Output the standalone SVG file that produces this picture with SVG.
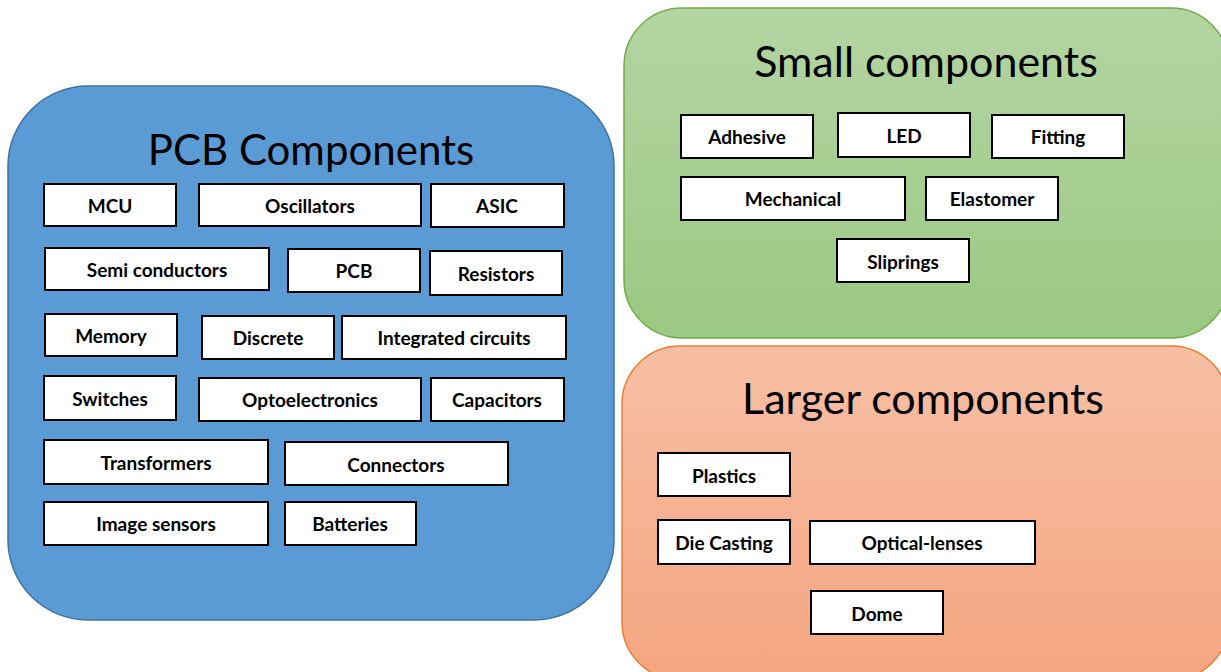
<svg xmlns="http://www.w3.org/2000/svg" width="1221" height="672" viewBox="0 0 1221 672">
  <defs>
    <linearGradient id="gradGreen" x1="0" y1="0" x2="0" y2="1">
      <stop offset="0" stop-color="#b4d5a3"/>
      <stop offset="1" stop-color="#9bc883"/>
    </linearGradient>
    <linearGradient id="gradOrange" x1="0" y1="0" x2="0" y2="1">
      <stop offset="0" stop-color="#f7bfa5"/>
      <stop offset="1" stop-color="#f4a580"/>
    </linearGradient>
    <style>
      .panel-title { font-family: Lato, "Liberation Sans", sans-serif; font-size: 43px; fill: #000; text-anchor: middle; }
      .item rect { fill: #fff; stroke: #000; stroke-width: 2; }
      .item text { font-family: Lato, "Liberation Sans", sans-serif; font-weight: bold; font-size: 19px; fill: #000; text-anchor: middle; dominant-baseline: central; }
    </style>
  </defs>
  <rect width="1221" height="672" fill="#fff"/>

  <!-- Category panels -->
  <g id="pcb-panel">
    <rect x="8" y="86" width="606" height="534" rx="80" ry="80" fill="#5b9bd5" stroke="#41719c" stroke-width="1.5"/>
    <text class="panel-title" x="311" y="165" style="font-size:42px">PCB Components</text>
  </g>
  <g id="small-panel">
    <rect x="624" y="8" width="605" height="330" rx="58" ry="58" fill="url(#gradGreen)" stroke="#70ad47" stroke-width="1.5"/>
    <text class="panel-title" x="926" y="77">Small components</text>
  </g>
  <g id="larger-panel">
    <rect x="622" y="346" width="607" height="334" rx="58" ry="58" fill="url(#gradOrange)" stroke="#ed7d31" stroke-width="1.5"/>
    <text class="panel-title" x="923" y="414">Larger components</text>
  </g>

  <!-- PCB component items -->
  <g id="mcu" class="item"><rect x="44" y="184" width="132" height="42"/><text x="110" y="205">MCU</text></g>
  <g id="oscillators" class="item"><rect x="199" y="184" width="222" height="42"/><text x="310" y="205">Oscillators</text></g>
  <g id="asic" class="item"><rect x="431" y="184" width="133" height="43"/><text x="497" y="205">ASIC</text></g>
  <g id="semi-conductors" class="item"><rect x="45" y="248" width="224" height="42"/><text x="157" y="269">Semi conductors</text></g>
  <g id="pcb" class="item"><rect x="288" y="249" width="132" height="43"/><text x="354" y="270">PCB</text></g>
  <g id="resistors" class="item"><rect x="430" y="251" width="132" height="44"/><text x="496" y="273">Resistors</text></g>
  <g id="memory" class="item"><rect x="45" y="314" width="132" height="42"/><text x="111" y="335">Memory</text></g>
  <g id="discrete" class="item"><rect x="202" y="316" width="132" height="43"/><text x="268" y="337">Discrete</text></g>
  <g id="integrated-circuits" class="item"><rect x="342" y="316" width="224" height="43"/><text x="454" y="337">Integrated circuits</text></g>
  <g id="switches" class="item"><rect x="44" y="376" width="132" height="44"/><text x="110" y="398">Switches</text></g>
  <g id="optoelectronics" class="item"><rect x="199" y="378" width="222" height="43"/><text x="310" y="399">Optoelectronics</text></g>
  <g id="capacitors" class="item"><rect x="431" y="378" width="133" height="43"/><text x="497" y="399">Capacitors</text></g>
  <g id="transformers" class="item"><rect x="44" y="440" width="224" height="44"/><text x="156" y="462">Transformers</text></g>
  <g id="connectors" class="item"><rect x="285" y="442" width="223" height="43"/><text x="396" y="464">Connectors</text></g>
  <g id="image-sensors" class="item"><rect x="44" y="502" width="224" height="43"/><text x="156" y="523">Image sensors</text></g>
  <g id="batteries" class="item"><rect x="285" y="502" width="131" height="43"/><text x="350" y="523">Batteries</text></g>

  <!-- Small component items -->
  <g id="adhesive" class="item"><rect x="681" y="115" width="132" height="43"/><text x="747" y="136">Adhesive</text></g>
  <g id="led" class="item"><rect x="838" y="113" width="132" height="44"/><text x="904" y="135">LED</text></g>
  <g id="fitting" class="item"><rect x="992" y="115" width="132" height="43"/><text x="1058" y="136">Fitting</text></g>
  <g id="mechanical" class="item"><rect x="681" y="177" width="224" height="43"/><text x="793" y="198">Mechanical</text></g>
  <g id="elastomer" class="item"><rect x="926" y="177" width="132" height="43"/><text x="992" y="198">Elastomer</text></g>
  <g id="sliprings" class="item"><rect x="837" y="239" width="132" height="43"/><text x="903" y="261">Sliprings</text></g>

  <!-- Larger component items -->
  <g id="plastics" class="item"><rect x="658" y="453" width="132" height="43"/><text x="724" y="475">Plastics</text></g>
  <g id="die-casting" class="item"><rect x="658" y="520" width="132" height="44"/><text x="724" y="542">Die Casting</text></g>
  <g id="optical-lenses" class="item"><rect x="810" y="521" width="225" height="43"/><text x="922" y="542">Optical-lenses</text></g>
  <g id="dome" class="item"><rect x="811" y="591" width="132" height="43"/><text x="877" y="613">Dome</text></g>
</svg>
